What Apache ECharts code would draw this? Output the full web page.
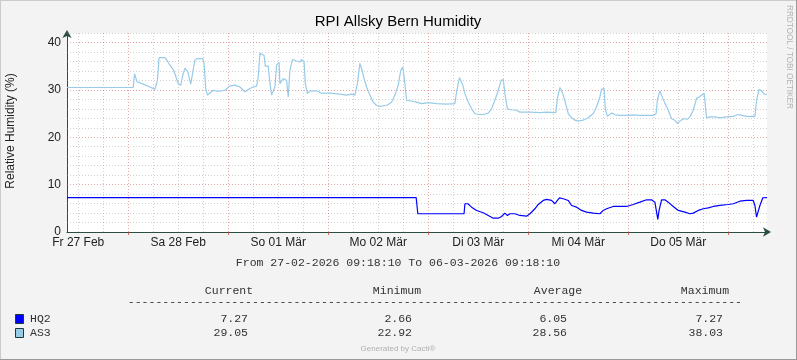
<!DOCTYPE html>
<html><head><meta charset="utf-8">
<script src="https://cdn.jsdelivr.net/npm/echarts@6/dist/echarts.min.js"></script>
<style>html,body{margin:0;padding:0;background:#f3f3f3}#c{width:797px;height:360px}</style>
</head><body><div id="c"></div>
<script>
// ---------- data ----------
const titleText = 'RPI Allsky Bern Humidity';
const yAxisTitle = 'Relative Humidity (%)';
const sideText = 'RRDTOOL / TOBI OETIKER';
const rangeText = 'From 27-02-2026 09:18:10 To 06-03-2026 09:18:10';
const footerText = 'Generated by Cacti®';
// x values are hours since 27-02-2026 00:00
const startHour = 9.3028;   // 27-02-2026 09:18:10
const endHour = 177.3028;   // 06-03-2026 09:18:10
const dayLabels = ['Fr 27 Feb','Sa 28 Feb','So 01 Mär','Mo 02 Mär','Di 03 Mär','Mi 04 Mär','Do 05 Mär'];
const dayLabelHours = [12,36,60,84,108,132,156];
const midnightHours = [24,48,72,96,120,144,168];
const sixHourHours = [12,18,30,36,42,54,60,66,78,84,90,102,108,114,126,132,138,150,156,162,174];
const yMax = 42;
const yMajorTicks = [10,20,30,40];
const yMinorTicks = [2,4,6,8,12,14,16,18,22,24,26,28,32,34,36,38,42];

const as3Hours = [9.3,25.2,25.5,26.1,27.6,29.2,30.4,31.0,31.4,32.8,33.4,34.0,34.8,35.2,36.0,36.6,37.1,37.6,38.3,39.0,39.5,40.0,40.6,41.9,42.2,42.6,43.0,44.4,45.6,47.2,48.4,49.6,50.8,52.0,53.2,54.0,54.8,55.2,55.6,56.0,56.6,56.9,57.6,58.0,58.4,58.8,59.2,59.6,60.2,60.4,60.8,61.2,61.6,62.0,62.4,62.8,63.4,64.4,65.2,65.6,66.2,66.5,67.0,67.6,69.2,70.4,72.4,73.6,74.8,76.4,77.6,78.4,79.0,79.6,80.0,80.6,81.2,82.0,82.8,83.6,84.4,86.0,87.2,88.0,88.8,89.4,89.9,90.2,90.4,90.8,91.6,93.2,94.4,96.0,98.0,100.4,102.4,102.8,103.5,103.8,104.3,104.8,105.6,106.4,107.2,108.0,109.2,110.4,111.2,112.0,112.8,113.5,114.0,114.4,115.0,116.0,117.2,118.0,120.4,122.8,124.4,126.6,127.0,127.6,128.3,129.0,129.6,130.4,131.2,132.0,133.2,134.4,135.6,136.4,137.2,137.6,138.2,138.5,139.0,140.0,140.8,141.6,144.0,145.1,146.8,150.0,150.7,151.0,151.6,152.3,152.8,153.6,154.4,155.2,155.8,156.4,157.2,158.2,158.8,159.6,160.4,161.2,162.2,162.5,162.8,163.6,164.8,166.0,167.6,169.2,170.4,171.3,172.4,174.4,174.8,175.4,176.0,176.6,177.3];
const as3Values = [30.5,30.5,33.4,31.7,31.2,30.6,30.1,32.0,36.8,36.8,36.1,35.2,34.3,33.4,31.3,31.0,33.1,34.6,33.8,31.2,33.8,36.3,36.6,36.6,35.6,30.3,28.9,29.9,29.7,29.9,30.8,31.0,30.6,29.6,30.3,30.6,30.8,32.7,37.7,38.03,37.3,35.0,35.0,31.5,28.9,28.9,30.6,35.2,35.8,31.3,31.3,32.4,32.7,32.0,28.5,34.1,36.4,36.1,35.9,36.4,35.9,31.3,29.2,29.8,29.8,29.3,29.3,29.2,29.1,28.9,29.1,28.9,31.3,35.6,34.5,32.4,30.6,28.9,27.4,26.7,26.5,26.7,27.4,28.9,31.0,34.1,34.8,34.6,31.3,27.8,27.7,27.4,27.1,27.3,27.1,27.0,27.1,29.6,32.6,32.4,31.0,29.2,27.4,26.0,25.0,24.8,24.8,25.1,26.0,27.8,29.9,32.0,32.2,29.2,26.0,25.8,25.7,25.3,25.3,25.2,25.3,25.2,28.2,30.5,29.2,27.1,25.0,24.1,23.6,23.4,23.6,24.1,25.0,26.4,28.5,30.1,30.3,26.0,24.4,25.1,24.8,24.6,24.6,24.7,24.6,24.6,25.0,27.9,29.8,28.2,27.2,25.7,23.9,23.6,22.92,23.4,23.9,23.8,24.3,25.7,28.2,28.6,29.3,29.3,24.1,24.3,24.3,24.1,24.3,24.4,24.8,24.6,24.4,24.4,27.8,30.1,29.8,29.1,29.05];

const hq2Hours = [9.3,93.1,93.5,104.6,104.8,105.5,106.4,107.6,109.2,110.4,111.6,112.8,113.6,114.4,115.0,115.6,116.8,118.0,119.6,120.4,121.6,122.4,123.6,124.4,125.6,126.4,127.0,127.5,128.4,129.6,130.4,131.6,132.8,134.0,135.6,137.2,138.0,138.8,140.4,143.6,145.2,146.8,148.4,149.6,150.4,150.8,151.1,151.4,152.0,152.8,153.6,154.8,156.0,157.6,158.8,159.6,160.8,162.0,163.2,164.4,166.0,168.0,169.2,170.8,172.4,174.0,174.4,174.8,175.2,175.6,176.3,177.3];
const hq2Values = [7.27,7.27,3.85,3.85,5.96,5.96,5.24,4.55,4.06,3.49,2.92,2.92,3.28,3.98,3.49,3.85,3.85,3.49,3.34,3.85,4.9,5.81,6.66,6.87,6.66,5.96,6.66,7.2,7.02,6.66,5.6,5.24,4.55,4.19,3.98,3.85,4.55,4.9,5.39,5.39,5.81,6.3,6.8,6.8,6.3,4.19,2.66,4.55,6.8,6.8,6.3,5.39,4.55,4.19,3.85,3.98,4.55,4.9,5.1,5.39,5.6,5.81,5.96,6.5,6.66,6.66,5.6,3.13,3.13,5.6,7.23,7.27];

const seriesNames = ['HQ2','AS3'];
const statHeaders = ['Current','Minimum','Average','Maximum'];
const statCurrent = ['7.27','29.05'];
const statMinimum = ['2.66','22.92'];
const statAverage = ['6.05','28.56'];
const statMaximum = ['7.27','38.03'];

// ---------- styles ----------
const HQ2_COLOR = '#0000ff';
const AS3_COLOR = '#98cbe8';
const AXIS_COLOR = '#2c4d43';
const MINOR = 'rgba(140,140,140,0.4)';
const MAJOR = 'rgba(200,60,60,0.45)';
const MONO = '11.5px "Liberation Mono", "DejaVu Sans Mono", monospace';
const SANS = '"Liberation Sans", Arial, sans-serif';

const G = {left: 67, top: 33, width: 700, height: 199};

const gridLines = [].concat(
  sixHourHours.map(h => ({xAxis: h, lineStyle: {color: MINOR, type: [1, 2], width: 1}})),
  midnightHours.map(h => ({xAxis: h, lineStyle: {color: MAJOR, type: [1, 2], width: 1}})),
  yMinorTicks.map(v => ({yAxis: v, lineStyle: {color: MINOR, type: [1, 2], width: 1}})),
  yMajorTicks.map(v => ({yAxis: v, lineStyle: {color: MAJOR, type: [1, 2], width: 1}}))
);

const colX = {Current: 248, Minimum: 412, Average: 567, Maximum: 723};
const headerCenter = {Current: 229, Minimum: 397, Average: 558, Maximum: 705};
const rowY = [319, 333];
const statCols = [statCurrent, statMinimum, statAverage, statMaximum];

function txt(x, y, text, font, fill, align, valign, extra) {
  return Object.assign({type: 'text', x: x, y: y, silent: true,
    style: {text: text, font: font, fill: fill, textAlign: align, align: align,
      textVerticalAlign: valign, verticalAlign: valign}}, extra || {});
}

const graphics = [
  // frame
  {type: 'rect', shape: {x: 0, y: 0, width: 797, height: 1}, style: {fill: '#cbcbcb'}, silent: true},
  {type: 'rect', shape: {x: 0, y: 0, width: 1, height: 360}, style: {fill: '#cbcbcb'}, silent: true},
  {type: 'rect', shape: {x: 796, y: 0, width: 1, height: 360}, style: {fill: '#999999'}, silent: true},
  {type: 'rect', shape: {x: 0, y: 359, width: 797, height: 1}, style: {fill: '#999999'}, silent: true},
  txt(398, 22, titleText, '15px ' + SANS, '#000', 'center', 'middle'),
  txt(789, 5, sideText, '8.2px ' + SANS, '#b4b4b4', 'left', 'middle', {rotation: -Math.PI / 2}),
  txt(11, 131, yAxisTitle, '12px ' + SANS, '#222', 'center', 'middle', {rotation: Math.PI / 2}),
  txt(398, 263, rangeText, MONO, '#333', 'center', 'middle'),
  txt(742, 302, '-'.repeat(89), MONO, '#333', 'right', 'middle'),
  txt(398, 349, footerText, '8px ' + SANS, '#b0b0b0', 'center', 'middle')
];
statHeaders.forEach(h => graphics.push(txt(headerCenter[h], 291, h, MONO, '#333', 'center', 'middle')));
seriesNames.forEach((n, i) => {
  graphics.push({type: 'rect', silent: true, shape: {x: 15.5, y: rowY[i] - 4.5, width: 8, height: 9},
    style: {fill: i === 0 ? HQ2_COLOR : AS3_COLOR, stroke: '#1d3a3a', lineWidth: 1}});
  graphics.push(txt(30, rowY[i], n, MONO, '#333', 'left', 'middle'));
  statHeaders.forEach((h, c) => graphics.push(txt(colX[h], rowY[i], statCols[c][i], MONO, '#333', 'right', 'middle')));
});

const chart = echarts.init(document.getElementById('c'), null, {renderer: 'canvas'});
chart.setOption({
  backgroundColor: '#f3f3f3',
  animation: false,
  grid: Object.assign({show: true, backgroundColor: '#ffffff', borderWidth: 0}, G),
  xAxis: {
    type: 'value', min: startHour, max: endHour,
    axisLine: {show: true, onZero: false, lineStyle: {color: AXIS_COLOR, width: 1},
      symbol: ['none', 'arrow'], symbolSize: [7, 8], symbolOffset: [0, 4]},
    axisTick: {show: true, customValues: midnightHours, length: 3, inside: false,
      lineStyle: {color: 'rgba(200,60,60,0.7)'}},
    axisLabel: {show: true, customValues: dayLabelHours, margin: 5, color: '#222',
      fontFamily: SANS, fontSize: 12,
      formatter: v => { const i = dayLabelHours.indexOf(Math.round(v)); return i >= 0 ? dayLabels[i] : ''; }},
    splitLine: {show: false}
  },
  yAxis: {
    type: 'value', min: 0, max: yMax, interval: 2,
    axisLine: {show: true, lineStyle: {color: AXIS_COLOR, width: 1},
      symbol: ['none', 'arrow'], symbolSize: [7, 8], symbolOffset: [0, 3]},
    axisTick: {show: false},
    axisLabel: {show: true, margin: 6, color: '#222', fontFamily: SANS, fontSize: 12,
      formatter: v => (v % 10 === 0 ? String(v) : '')},
    splitLine: {show: false}
  },
  series: [
    {type: 'line', name: 'grid', data: [], silent: true, z: 1,
      markLine: {silent: true, z: 1, animation: false, symbol: ['none', 'none'],
        label: {show: false}, emphasis: {disabled: true}, data: gridLines}},
    {type: 'line', name: 'AS3', z: 3, showSymbol: false, silent: true,
      lineStyle: {color: AS3_COLOR, width: 1.2}, itemStyle: {color: AS3_COLOR},
      data: as3Hours.map((h, i) => [h, as3Values[i]])},
    {type: 'line', name: 'HQ2', z: 4, showSymbol: false, silent: true,
      lineStyle: {color: HQ2_COLOR, width: 1.2}, itemStyle: {color: HQ2_COLOR},
      data: hq2Hours.map((h, i) => [h, hq2Values[i]])}
  ],
  graphic: graphics
});
</script></body></html>
